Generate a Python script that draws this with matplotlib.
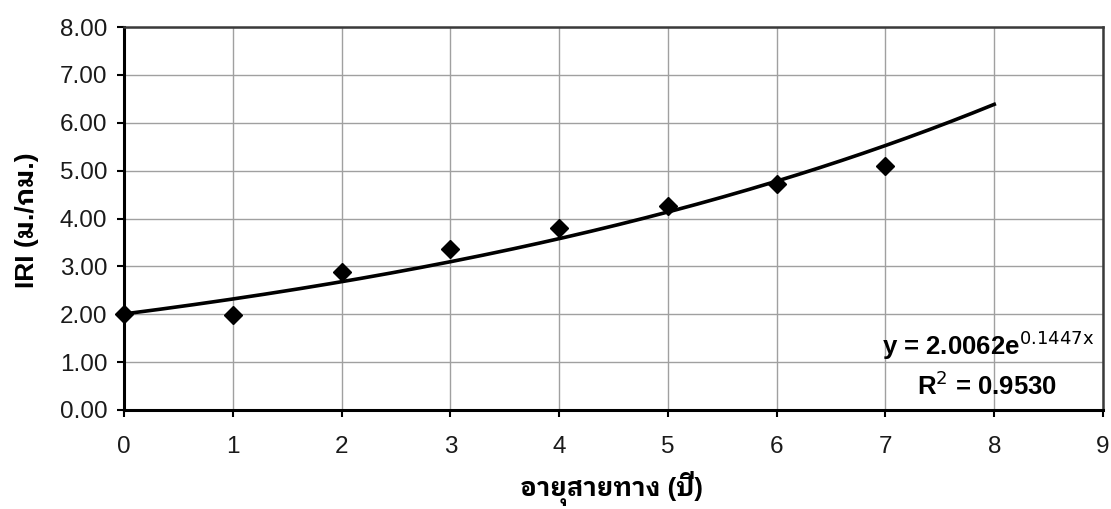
import matplotlib
matplotlib.use("Agg")
import matplotlib.pyplot as plt
from matplotlib import font_manager
from matplotlib.ft2font import FT2Font
import numpy as np

# data
age_years = [0, 1, 2, 3, 4, 5, 6, 7]
iri_values = [2.00, 1.99, 2.89, 3.37, 3.80, 4.26, 4.73, 5.10]
fit_a = 2.0062
fit_b = 0.1447
r_squared = 0.9530
fit_x_max = 8
x_ticks = list(range(0, 10))
y_ticks = [0, 1, 2, 3, 4, 5, 6, 7, 8]

x_label = "อายุสายทาง (ปี)"
y_label = "IRI (ม./กม.)"
eq_text = r"y = 2.0062e$^{\mathrm{0.1447x}}$"
r2_text = r"R$^{\mathrm{2}}$ = " + f"{r_squared:.4f}"


def findThaiFont():
    # look for an installed font with Thai glyphs, looped style first
    found = []
    for f in font_manager.fontManager.ttflist:
        try:
            cmap = FT2Font(f.fname).get_charmap()
        except Exception:
            continue
        if 0x0E2D in cmap and 0x0E32 in cmap:
            found.append(f.name)
    if not found:
        return None
    found.sort(key=lambda n: (0 if "Looped" in n else 1, n))
    return found[0]


thaiFont = findThaiFont()
labelFamilies = ["Liberation Sans"] + ([thaiFont] if thaiFont else []) + ["DejaVu Sans"]

plt.rcParams['font.family'] = ["Liberation Sans", "DejaVu Sans"]

fig = plt.figure(figsize=(11.11, 5.09), dpi=100)
ax = fig.add_axes([124 / 1111, 1 - 410 / 509, (1103 - 124) / 1111, (410 - 27) / 509])

xs = np.linspace(0, fit_x_max, 200)
ax.plot(xs, fit_a * np.exp(fit_b * xs), color="black", linewidth=2.6, zorder=3)
ax.plot(age_years, iri_values, linestyle="none", marker="D", markersize=9,
        color="black", zorder=4, clip_on=False)

ax.set_xlim(0, 9)
ax.set_ylim(0, 8)
ax.set_xticks(x_ticks)
ax.set_yticks(y_ticks)
ax.set_yticklabels([f"{v:.2f}" for v in y_ticks])
ax.tick_params(axis="both", labelsize=17.5, labelcolor="#1a1a1a", direction="out",
               length=5, width=1.5, color="black")
ax.tick_params(axis="x", pad=14)
ax.tick_params(axis="y", pad=7)
ax.grid(True, color="#a0a0a0", linewidth=1.0)
ax.set_axisbelow(True)

for side in ["left", "bottom"]:
    ax.spines[side].set_linewidth(2.2)
    ax.spines[side].set_color("black")
for side in ["top", "right"]:
    ax.spines[side].set_linewidth(1.8)
    ax.spines[side].set_color("#3a3a3a")

ax.text(8.92, 1.14, eq_text, ha="right", va="baseline", fontsize=18.5, fontweight="bold")
ax.text(8.58, 0.31, r2_text, ha="right", va="baseline", fontsize=18.5, fontweight="bold")

fig.text(611 / 1111, 1 - 506 / 509, x_label, ha="center", va="bottom",
         fontsize=18.5, fontweight="bold", family=labelFamilies)
fig.text(27 / 1111, 1 - 220 / 509, y_label, ha="center", va="center", rotation=90,
         fontsize=19, fontweight="bold", family=labelFamilies)

fig.savefig("out.png", dpi=100, facecolor="white")
